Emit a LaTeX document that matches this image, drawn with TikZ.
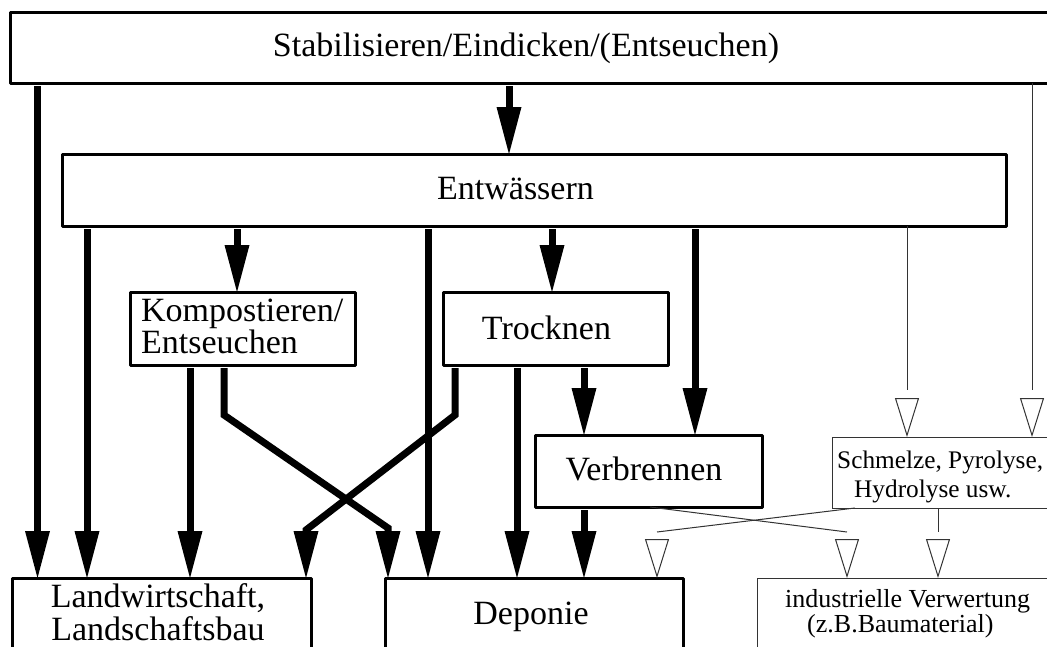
\documentclass[tikz,border=0pt]{standalone}
\usepackage{fontspec}
\setmainfont{Liberation Serif}
\usetikzlibrary{arrows.meta}
\newcommand\fbig{\fontsize{34}{32}\selectfont}
\newcommand\fsmall{\fontsize{26}{29}\selectfont}
\newcommand\fsmaller{\fontsize{25.3}{29}\selectfont}
\begin{document}
\begin{tikzpicture}[x=1pt,y=-1pt,
  box/.style={draw, line width=3pt, line join=round, rectangle, inner sep=0pt, outer sep=0pt, anchor=north west},
  thinbox/.style={draw=black!80, line width=1pt, rectangle, inner sep=0pt, outer sep=0pt, anchor=north west},
  big/.style={font=\fbig, inner sep=0pt},
  small/.style={font=\fsmall, inner sep=0pt},
  flow/.style={line width=7pt, shorten <=3pt},
  arr/.style={flow, -{Triangle[length=47pt,width=25pt,line width=0pt]}},
  thinline/.style={draw=black!80, line width=1pt},
  tri/.style={thinline, -{Triangle[open,length=39pt,width=24pt]}},
]
\useasboundingbox (0,0) rectangle (1047,646);
\clip (0,0) rectangle (1047,646);

% boxes
\node[box, minimum width=1050pt, minimum height=71pt] (top) at (10,12) {};
\node[box, minimum width=944pt, minimum height=72pt] (ent) at (62,154) {};
\node[box, minimum width=225pt, minimum height=73pt] (komp) at (130,292) {};
\node[box, minimum width=225pt, minimum height=73pt] (trock) at (443,292) {};
\node[box, minimum width=227pt, minimum height=72pt] (verb) at (535,435) {};
\node[thinbox, minimum width=230pt, minimum height=71pt] (schm) at (832,437) {};
\node[box, minimum width=299pt, minimum height=120pt] (lw) at (12,578) {};
\node[box, minimum width=298pt, minimum height=120pt] (dep) at (385,578) {};
\node[thinbox, minimum width=300pt, minimum height=120pt] (ind) at (757,578) {};

% texts (multi-line nodes: base = last line)
\node[big, anchor=base] (topt) at (526,56) {Stabilisieren/Eindicken/(Entseuchen)};
\node[big, anchor=base] (entt) at (515.5,199) {Entwässern};
\node[big, anchor=base west, align=left] (kompt) at (141,353) {Kompostieren/\\Entseuchen};
\node[big, anchor=base] (trockt) at (546.5,339) {Trocknen};
\node[big, anchor=base] (verbt) at (644,480) {Verbrennen};
\node[big, anchor=base, align=center] (lwt) at (158,640) {Landwirtschaft,\\[1pt]Landschaftsbau};
\node[big, anchor=base] (dept) at (531,624) {Deponie};
\node[small, font=\fsmaller, anchor=base west, align=left] (schmt) at (837,497) {Schmelze, Pyrolyse,\\\hspace*{17pt}Hydrolyse usw.};
\node[small, anchor=base west, align=left] (indt) at (785,632) {industrielle Verwertung\\[-4pt]\hspace*{22pt}(z.B.Baumaterial)};

% columns
\coordinate (cA) at (37.5,0);
\coordinate (cB) at (509,0);
\coordinate (cC) at (1032,0);
\coordinate (cD) at (87,0);
\coordinate (cE) at (237,0);
\coordinate (cF) at (428,0);
\coordinate (cG) at (552,0);
\coordinate (cH) at (695,0);
\coordinate (cI) at (907,0);
\coordinate (cJ) at (190,0);
\coordinate (cK) at (224,0);
\coordinate (cK2) at (388,0);
\coordinate (cL) at (455,0);
\coordinate (cL2) at (306,0);
\coordinate (cM) at (517,0);
\coordinate (cN) at (584,0);
\coordinate (cP) at (650,0);
\coordinate (cP2) at (847,0);
\coordinate (cQ) at (855,0);
\coordinate (cQ2) at (657,0);
\coordinate (cR) at (938,0);

% thick connectors
\draw[arr] (top.south -| cA) -- (lw.north -| cA);
\draw[arr] (top.south -| cB) -- (ent.north -| cB);
\draw[arr] (ent.south -| cD) -- (lw.north -| cD);
\draw[arr] (ent.south -| cE) -- (komp.north -| cE);
\draw[arr] (ent.south -| cF) -- (dep.north -| cF);
\draw[arr] (ent.south -| cG) -- (trock.north -| cG);
\draw[arr] (ent.south -| cH) -- (verb.north -| cH);
\draw[arr] (komp.south -| cJ) -- (lw.north -| cJ);
\draw[arr] (komp.south -| cK) -- ++(0,50) -- ++(164,113) -- (dep.north -| cK2);
\draw[arr] (trock.south -| cL) -- ++(0,50) -- ++(-149,115) -- (lw.north -| cL2);
\draw[arr] (trock.south -| cM) -- (dep.north -| cM);
\draw[arr] (trock.south -| cN) -- (verb.north -| cN);
\draw[arr] (verb.south -| cN) -- (dep.north -| cN);

% thin connectors with detached open triangles
\draw[thinline] (top.south -| cC) -- ([yshift=47pt]schm.north -| cC);
\draw[tri] ([yshift=39pt]schm.north -| cC) -- (schm.north -| cC);
\draw[thinline] (ent.south -| cI) -- ([yshift=47pt]schm.north -| cI);
\draw[tri] ([yshift=39pt]schm.north -| cI) -- (schm.north -| cI);
\draw[thinline] (verb.south -| cP) -- ([yshift=46pt]ind.north -| cP2);
\draw[tri] ([yshift=39pt]ind.north -| cP2) -- (ind.north -| cP2);
\draw[thinline] (schm.south -| cQ) -- ([yshift=46pt]dep.north -| cQ2);
\draw[tri] ([yshift=39pt]dep.north -| cQ2) -- (dep.north -| cQ2);
\draw[thinline] (schm.south -| cR) -- ([yshift=46pt]ind.north -| cR);
\draw[tri] ([yshift=39pt]ind.north -| cR) -- (ind.north -| cR);
\end{tikzpicture}
\end{document}
